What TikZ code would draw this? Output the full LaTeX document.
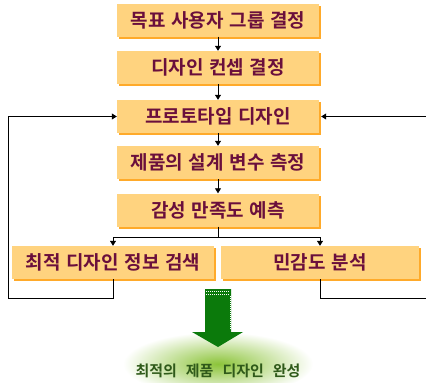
\documentclass[tikz,border=0pt]{standalone}
\usepackage{fontspec}
\newfontfamily\kr{Noto Sans CJK KR}[BoldFont={Noto Sans CJK KR Bold}]
\usetikzlibrary{arrows.meta,shadows}
\definecolor{boxfill}{HTML}{FFD37F}
\definecolor{shadowc}{HTML}{FFAA2A}
\definecolor{txt}{HTML}{6A0F3C}
\definecolor{arrgreen}{HTML}{0B7A0B}
\definecolor{glow}{HTML}{8CC43A}
\definecolor{fintxt}{HTML}{2F5A1A}
\newcommand{\ktxt}{\kr\bfseries\fontsize{19}{19}\selectfont\spaceskip=0.3em plus 0.1em\relax}
\newcommand{\ftxt}{\kr\bfseries\fontsize{15}{15}\selectfont\spaceskip=0.6em plus 0.1em\relax}
\begin{document}
\begin{tikzpicture}[x=1pt,y=-1pt,
  box/.style={fill=boxfill, minimum height=33pt, inner sep=0pt,
    font=\ktxt, text=txt,
    drop shadow={shadow xshift=2pt, shadow yshift=-2pt, fill=shadowc, opacity=1}},
  arr/.style={draw=black, line width=0.8pt, -{Triangle[length=5pt,width=6pt]}},
  ln/.style={draw=black, line width=0.8pt}]
\useasboundingbox (0,0) rectangle (426,383);
% glow
\shade[inner color=glow, outer color=white] (218,364) ellipse (95 and 32);
\node[box, minimum width=202pt] (b1) at (218,20) {목표 사용자 그룹 결정};
\node[box, minimum width=202pt] (b2) at (218,67.5) {디자인 컨셉 결정};
\node[box, minimum width=202pt] (b3) at (218,116.5) {프로토타입 디자인};
\node[box, minimum width=202pt] (b4) at (218,162.5) {제품의 설계 변수 측정};
\node[box, minimum width=202pt] (b5) at (218,210) {감성 만족도 예측};
\node[box, minimum width=202pt] (b6) at (113,262.5) {최적 디자인 정보 검색};
\node[box, minimum width=198pt] (b7) at (320,262.5) {민감도 분석};
\draw[arr] (b1) -- (b2);
\draw[arr] (b2) -- (b3);
\draw[arr] (b3) -- (b4);
\draw[arr] (b4) -- (b5);
\coordinate (sp) at (218,237);
\draw[ln] (b5.south) -- (sp);
\draw[arr] (sp) -| (b6.north);
\draw[arr] (sp) -| (b7.north);
\coordinate (l1) at (8,298);
\coordinate (r1) at (426,298);
\draw[arr] (b6.south) |- (l1) |- (b3.west);
\draw[arr] (b7.south) |- (r1) |- ([xshift=2pt]b3.east);
% green arrow
\fill[arrgreen] (205,289) -- (231,289) -- (231,332) -- (243,332) -- (218,347)
  -- (192,332) -- (205,332) -- cycle;
\draw[white, line width=0.6pt, dash pattern=on 1pt off 1pt] (206,291) -- (230,291);
\draw[white, line width=0.6pt, dash pattern=on 1pt off 1pt] (206,294) -- (230,294);
\draw[white, line width=0.6pt, dash pattern=on 1pt off 1pt] (230,296) -- (230,330);
\node[font=\ftxt, text=fintxt] (fin) at (218,371) {최적의 제품 디자인 완성};
\end{tikzpicture}
\end{document}
